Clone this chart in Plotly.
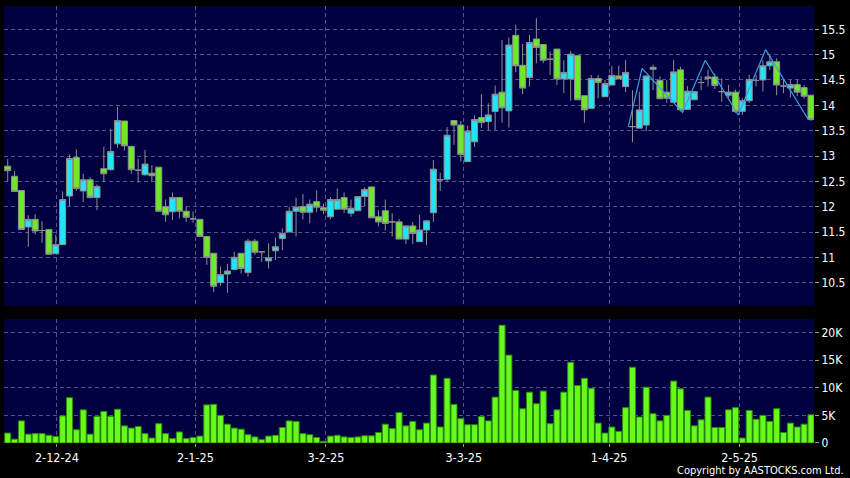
import plotly.graph_objects as go

# ---------------- data ----------------
idx = list(range(118))
opens = [12.80,12.60,12.32,11.60,11.75,11.53,11.55,11.07,11.25,12.21,
         12.97,12.31,12.53,12.18,12.75,12.73,13.24,13.69,13.19,12.72,
         12.63,12.66,12.78,12.00,11.90,12.18,11.91,11.76,11.75,11.41,
         11.08,10.50,10.67,10.76,11.08,10.70,11.32,11.11,10.93,11.13,
         11.37,11.50,11.91,12.00,11.89,12.10,11.98,11.80,11.95,12.18,
         11.87,11.92,12.20,12.39,11.80,11.92,11.70,11.70,11.36,11.62,
         11.31,11.54,11.88,12.53,12.54,13.70,13.61,12.89,13.28,13.76,
         13.68,13.88,14.26,13.89,15.38,14.79,14.55,15.31,15.20,14.91,
         15.11,14.52,14.52,14.98,14.19,13.94,14.53,14.17,14.40,14.58,
         14.37,13.58,13.55,13.61,14.75,14.49,14.26,14.06,14.70,13.92,
         14.11,14.45,14.53,14.56,14.27,14.20,14.26,13.88,14.09,14.49,
         14.50,14.78,14.86,14.38,14.34,14.41,14.35,14.20]
highs = [12.94,12.70,12.32,11.83,11.85,11.71,11.55,11.45,12.30,13.03,
         13.13,12.65,12.58,12.44,13.18,13.54,13.97,13.69,13.19,12.95,
         13.12,12.82,12.78,12.14,12.28,12.18,12.00,11.91,11.75,11.41,
         11.08,10.82,10.87,11.11,11.08,11.37,11.37,11.11,11.28,11.39,
         11.57,11.99,12.18,12.25,12.14,12.32,12.06,12.19,12.36,12.28,
         12.14,12.20,12.38,12.39,11.93,12.14,11.87,11.76,11.62,11.70,
         11.84,11.74,12.92,12.67,13.57,13.70,13.69,13.60,13.80,14.22,
         14.04,14.39,15.29,15.34,15.59,15.21,15.39,15.72,15.20,15.06,
         15.11,14.89,15.07,14.98,14.19,14.60,14.60,14.50,14.78,14.78,
         14.89,14.30,14.27,14.58,14.80,14.57,14.50,14.89,14.76,14.38,
         14.27,14.57,14.70,14.63,14.53,14.40,14.31,14.14,14.60,14.60,
         14.89,14.98,14.93,14.50,14.50,14.50,14.40,14.20]
lows = [12.50,12.29,11.55,11.21,11.45,11.29,11.05,11.07,11.25,12.01,
        12.31,12.09,12.16,11.93,12.48,12.71,13.16,13.11,12.65,12.47,
        12.61,12.49,11.91,11.70,11.74,11.77,11.70,11.68,11.41,10.85,
        10.32,10.44,10.30,10.76,10.68,10.62,11.05,10.91,10.78,10.95,
        11.14,11.50,11.41,11.75,11.67,11.89,11.85,11.75,11.95,11.87,
        11.80,11.92,12.01,11.78,11.61,11.53,11.41,11.36,11.26,11.26,
        11.31,11.24,11.70,12.31,12.48,13.22,12.89,12.89,13.18,13.55,
        13.50,13.51,13.66,13.56,14.65,14.22,14.37,14.83,14.83,14.60,
        14.40,14.24,14.09,14.11,13.66,13.94,14.14,14.17,14.40,14.52,
        14.26,13.27,13.55,13.49,14.30,14.13,14.05,14.06,13.88,13.92,
        14.11,14.30,14.37,14.32,14.07,14.15,13.85,13.81,14.05,14.37,
        14.27,14.70,14.20,14.24,14.16,14.18,14.13,13.69]
closes = [12.71,12.30,11.55,11.75,11.52,11.53,11.06,11.25,12.14,12.95,
          12.36,12.53,12.18,12.40,12.65,13.09,13.70,13.20,12.73,12.72,
          12.84,12.61,11.91,11.84,12.18,11.91,11.79,11.76,11.41,11.00,
          10.43,10.66,10.73,11.00,10.78,11.32,11.10,11.11,10.99,11.21,
          11.47,11.91,11.99,11.89,12.05,11.99,11.93,12.14,12.14,11.95,
          11.97,12.20,12.34,11.78,11.70,11.67,11.70,11.36,11.62,11.47,
          11.54,11.72,12.74,12.53,13.41,13.61,13.03,13.49,13.72,13.66,
          13.81,14.22,13.95,15.19,14.78,14.34,15.24,15.14,14.89,14.91,
          14.52,14.65,15.01,14.11,13.91,14.53,14.45,14.43,14.59,14.52,
          14.65,13.58,13.91,14.58,14.71,14.13,14.14,14.66,13.91,14.28,
          14.27,14.45,14.56,14.39,14.27,14.26,13.88,14.09,14.51,14.49,
          14.78,14.86,14.40,14.38,14.41,14.26,14.18,13.72]
volumes_k = [1.8,0.7,4.0,1.6,1.7,1.7,1.4,1.2,4.9,8.2,
             2.4,6.0,1.6,4.8,5.7,4.8,6.1,3.1,2.7,3.0,
             1.7,0.9,3.5,1.7,0.8,2.0,0.8,1.0,1.25,6.9,
             7.0,5.0,3.4,2.7,2.5,1.5,1.1,0.6,1.25,1.4,
             2.8,4.0,3.9,1.7,1.5,1.0,0.3,1.25,1.4,1.1,
             1.0,1.1,1.3,1.3,1.9,3.4,2.6,5.5,3.1,3.9,
             2.4,3.6,12.3,2.9,11.7,7.0,4.4,3.3,3.3,4.8,
             4.0,8.3,21.3,15.9,9.5,6.2,9.2,7.1,9.4,3.5,
             6.0,9.2,14.6,10.4,11.7,9.9,3.6,1.8,2.9,2.1,
             6.4,13.7,4.7,10.1,5.3,4.0,5.0,11.2,9.8,5.9,
             3.1,4.2,8.3,2.8,2.8,6.0,6.4,0.9,5.9,4.3,
             5.0,3.9,6.2,1.9,3.6,2.9,3.4,5.1]
zigzag_x = [90.4, 92.4, 98.3, 101.6, 106.4, 110.4, 116.6]
zigzag_y = [13.58, 14.73, 13.86, 14.89, 13.81, 15.10, 13.72]
date_tick_pos = [7.16, 27.35, 46.35, 66.43, 87.6, 106.6]
date_tick_labels = ["2-12-24", "2-1-25", "3-2-25", "3-3-25", "1-4-25", "2-5-25"]
price_ticks = [10.5, 11, 11.5, 12, 12.5, 13, 13.5, 14, 14.5, 15, 15.5]
vol_ticks = [0, 5, 10, 15, 20]
vol_tick_labels = ["0", "5K", "10K", "15K", "20K"]

# ---------------- styles ----------------
NAVY = "#000040"
GRID = "rgba(110,110,165,0.75)"
FONT = "DejaVu Sans Condensed, DejaVu Sans, sans-serif"
CYAN = "#22e4f6"
GREEN = "#6ee82a"
EDGE = "#8f8f8f"

fig = go.Figure()
fig.add_trace(go.Candlestick(
    x=idx, open=opens, high=highs, low=lows, close=closes,
    increasing=dict(line=dict(color=EDGE, width=1), fillcolor=CYAN),
    decreasing=dict(line=dict(color=EDGE, width=1), fillcolor=GREEN),
    whiskerwidth=0, xaxis="x", yaxis="y", showlegend=False, hoverinfo="skip"))
fig.add_trace(go.Scatter(
    x=zigzag_x, y=zigzag_y, mode="lines",
    line=dict(color="#3c9fe0", width=1.2),
    xaxis="x", yaxis="y", showlegend=False, hoverinfo="skip"))
fig.add_trace(go.Bar(
    x=idx, y=volumes_k,
    marker=dict(color="#66fa1e", line=dict(color="#2d8a06", width=1)),
    xaxis="x2", yaxis="y2", showlegend=False, hoverinfo="skip"))

xcommon = dict(range=[-0.54, 117.44], tickvals=date_tick_pos, ticktext=date_tick_labels,
               showgrid=True, gridcolor=GRID, griddash="4px,3px", gridwidth=1,
               zeroline=False, showline=False, fixedrange=True)
fig.update_layout(
    width=850, height=478,
    margin=dict(l=4, r=36, t=6, b=35),
    paper_bgcolor="#000000", plot_bgcolor=NAVY,
    font=dict(family=FONT, color="#ffffff", size=12),
    boxgap=0.12, boxgroupgap=0, bargap=0.12,
    xaxis=dict(domain=[0, 1], anchor="y", showticklabels=False, ticks="",
               rangeslider=dict(visible=False), **xcommon),
    xaxis2=dict(domain=[0, 1], anchor="y2", matches="x", showticklabels=True,
                ticks="outside", ticklen=3, tickcolor="#9a9a9a",
                tickfont=dict(size=12.5, color="#ffffff", family=FONT), **xcommon),
    yaxis=dict(domain=[0.3142, 1], anchor="x", side="right", range=[10.046, 15.96],
               tickvals=price_ticks, ticks="outside", ticklen=4, tickcolor="#9a9a9a",
               tickfont=dict(size=12, color="#ffffff", family=FONT),
               showgrid=True, gridcolor=GRID, griddash="4px,3px", gridwidth=1,
               zeroline=False, showline=False, fixedrange=True),
    yaxis2=dict(domain=[0, 0.2838], anchor="x2", side="right", range=[0, 22.43],
                tickvals=vol_ticks, ticktext=vol_tick_labels, ticks="outside", ticklen=4,
                tickcolor="#9a9a9a", tickfont=dict(size=12, color="#ffffff", family=FONT),
                showgrid=True, gridcolor=GRID, griddash="4px,3px", gridwidth=1,
                zeroline=False, showline=False, fixedrange=True),
)
fig.add_annotation(text="Copyright by AASTOCKS.com Ltd.", xref="paper", yref="paper",
                   x=1.0395, y=-0.062, xanchor="right", yanchor="middle", showarrow=False,
                   font=dict(size=11, color="#ffffff", family=FONT))

fig.write_html("out.html", config={"displayModeBar": False})

# remove the browser's default page margin so the figure sits at the window's origin
with open("out.html", "r", encoding="utf-8") as f:
    html = f.read()
html = html.replace("<head>", "<head><style>html,body{margin:0;padding:0;background:#000;overflow:hidden;}</style>", 1)
with open("out.html", "w", encoding="utf-8") as f:
    f.write(html)
